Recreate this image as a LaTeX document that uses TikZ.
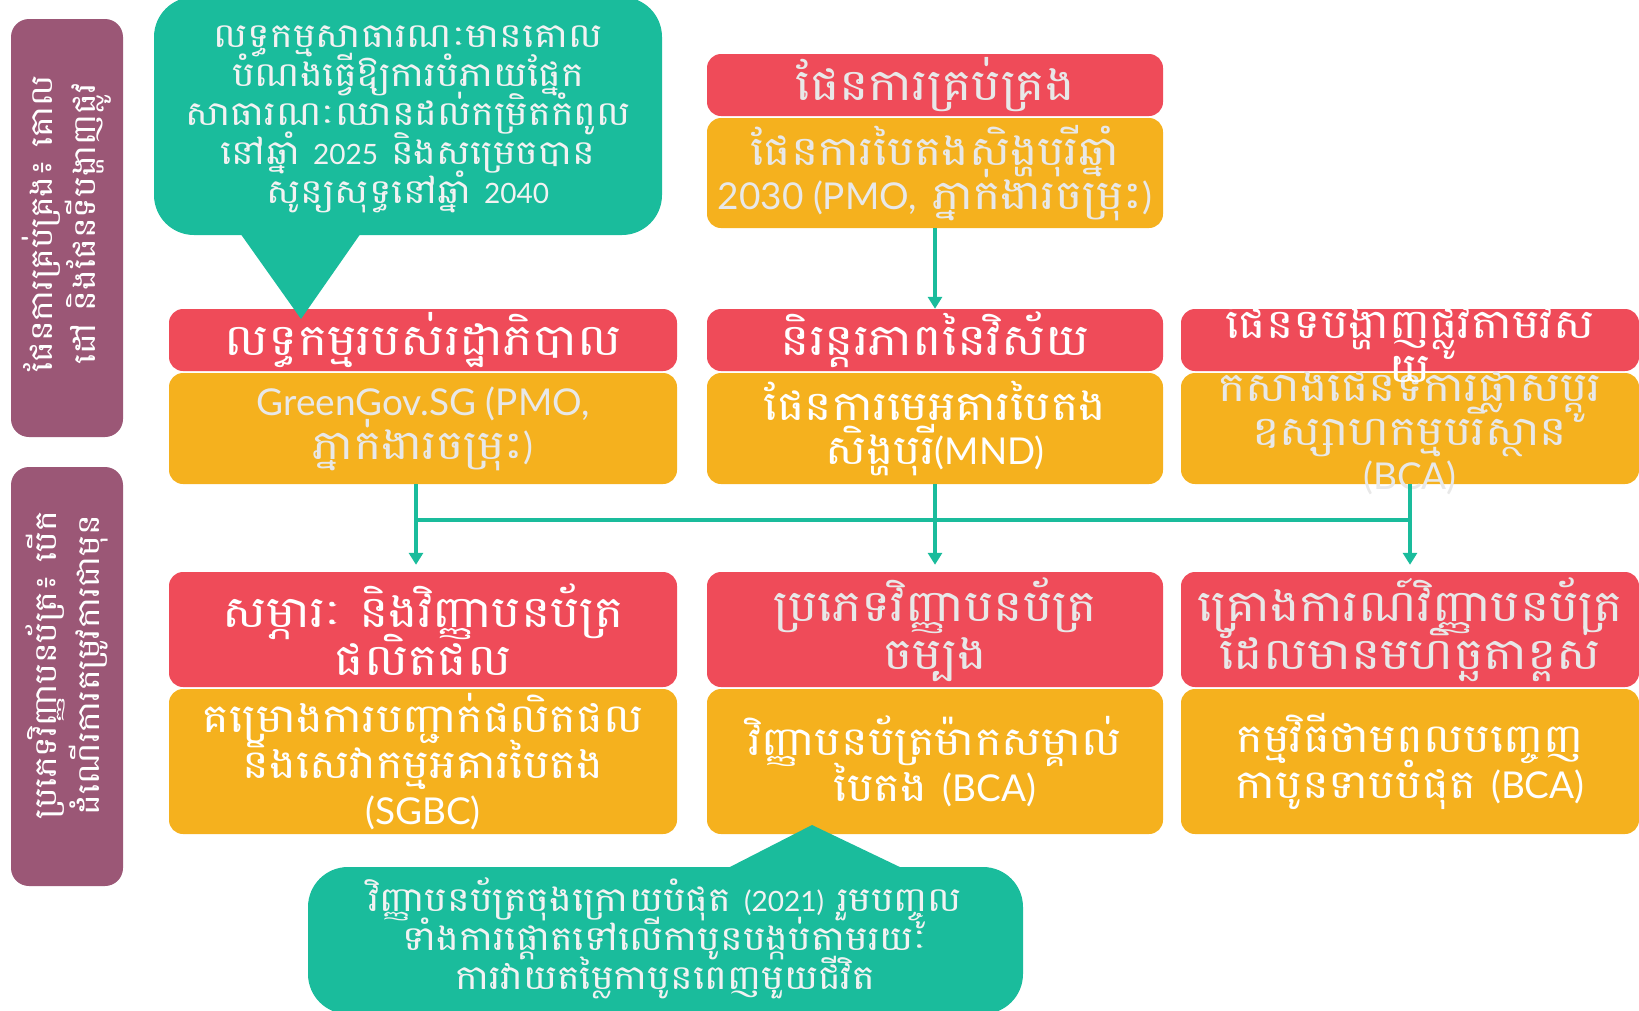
\documentclass[tikz,border=0pt]{standalone}
\usepackage{fontspec}
\setmainfont{Lato}
\newfontfamily\kh[Script=Khmer,FakeStretch=1.12]{Battambang}
\newfontfamily\la{Lato}
\def\ltsz{38}
\newcommand{\ltn}[1]{{\la\fontsize{\ltsz}{\ltsz}\selectfont #1}}
\usetikzlibrary{arrows.meta}
\definecolor{cred}{HTML}{EF4B59}
\definecolor{corg}{HTML}{F5B11E}
\definecolor{cteal}{HTML}{1ABC9C}
\definecolor{cpur}{HTML}{9B5776}
\definecolor{tgray}{HTML}{E8E8E8}
\def\tight{\lineskiplimit=-1000pt\lineskip=0pt}
\tikzset{
  box/.style={rectangle, rounded corners=14pt, inner sep=0pt, draw=none},
  redbox/.style={box, fill=cred},
  orgbox/.style={box, fill=corg},
  purbox/.style={rectangle, rounded corners=18pt, inner sep=0pt, draw=none, fill=cpur},
  ttl/.style={align=center, inner sep=0pt, text=white, font=\kh\fontsize{44}{48}\selectfont\tight},
  body/.style={align=center, inner sep=0pt, text=white, font=\def\ltsz{37}\kh\fontsize{41}{44}\selectfont\tight},
  bodyw/.style={body, font=\def\ltsz{37}\kh\fontsize{40}{46}\selectfont\tight},
  bub/.style={align=center, inner sep=0pt, text=white!95!black, font=\def\ltsz{28}\kh\fontsize{34}{39}\selectfont\tight},
  side/.style={align=center, inner sep=0pt, rotate=90, text=white, font=\kh\fontsize{31}{43}\selectfont\tight},
  line/.style={draw=cteal, line width=3.5pt},
  conn/.style={line, -{Triangle[width=14pt,length=12pt]}},
}
\begin{document}
\begin{tikzpicture}[x=1pt,y=-1pt]
\useasboundingbox (0,0) rectangle (1639,1010);

% left side labels
\node[purbox, minimum width=112, minimum height=418] (p1) at (67,228) {};
\node[side] (p1t) at (67,224) {ផែនការគ្រប់គ្រង៖ គោល\\ដៅ និងផែនទីបង្ហាញផ្លូវ};
\node[purbox, minimum width=112, minimum height=419] (p2) at (67,676.5) {};
\node[side] (p2t) at (67,665) {ប្រភេទវិញ្ញាបនប័ត្រ៖ បើក\\ដំណើរការតម្រូវការជាមុន};

% top column
\node[redbox, minimum width=456, minimum height=62] (rt) at (935,85) {};
\node[ttl, text=tgray] (rtt) at (rt) {ផែនការគ្រប់គ្រង};
\node[orgbox, minimum width=456, minimum height=110] (ot) at (935,173) {};
\node[body, text=tgray] (ott) at (ot) {ផែនការបៃតងសិង្ហបុរីឆ្នាំ\\\ltn{2030 (PMO,} ភ្នាក់ងារចម្រុះ\ltn{)}};

% row 2
\node[redbox, minimum width=508, minimum height=62] (r2a) at (423,340) {};
\node[ttl] (r2at) at (r2a) {លទ្ធកម្មរបស់រដ្ឋាភិបាល};
\node[redbox, minimum width=456, minimum height=62] (r2b) at (935,340) {};
\node[ttl] (r2bt) at (r2b) {និរន្តរភាពនៃវិស័យ};
\node[orgbox, minimum width=508, minimum height=111] (o2a) at (423,428.5) {};
\node[body, text=tgray] (o2at) at (o2a) {\ltn{GreenGov.SG (PMO,}\\ភ្នាក់ងារចម្រុះ\ltn{)}};
\node[orgbox, minimum width=456, minimum height=111] (o2b) at (935,428.5) {};
\node[body] (o2bt) at (o2b) {ផែនការមេអគារបៃតង\\សិង្ហបុរី\ltn{(MND)}};
\node[orgbox, minimum width=458, minimum height=111] (o2c) at (1410,428.5) {};
\node[body, text=tgray] (o2ct) at (o2c) {កសាងផែនទីការផ្លាស់ប្តូរ\\ឧស្សាហកម្មបរិស្ថាន\\\ltn{(BCA)}};
\node[redbox, minimum width=458, minimum height=62] (r2c) at (1410,340) {};
\node[ttl, font=\kh\fontsize{41}{44}\selectfont\tight] (r2ct) at (r2c) {ផែនទីបង្ហាញផ្លូវតាមវិស\\យ};

% row 3
\node[redbox, minimum width=508, minimum height=115] (r3a) at (423,629.5) {};
\node[ttl] (r3at) at (r3a) {សម្ភារៈ និងវិញ្ញាបនប័ត្រ\\ផលិតផល};
\node[redbox, minimum width=456, minimum height=115] (r3b) at (935,629.5) {};
\node[ttl, text=tgray] (r3bt) at (r3b) {ប្រភេទវិញ្ញាបនប័ត្រ\\ចម្បង};
\node[redbox, minimum width=458, minimum height=115] (r3c) at (1410,629.5) {};
\node[ttl, text=tgray] (r3ct) at (r3c) {គ្រោងការណ៍វិញ្ញាបនប័ត្រ\\ដែលមានមហិច្ឆតាខ្ពស់};
\node[orgbox, minimum width=508, minimum height=145] (o3a) at (423,761.5) {};
\node[bodyw] (o3at) at (o3a) {គម្រោងការបញ្ជាក់ផលិតផល\\និងសេវាកម្មអគារបៃតង\\\ltn{(SGBC)}};
\node[orgbox, minimum width=456, minimum height=145] (o3b) at (935,761.5) {};
\node[bodyw] (o3bt) at (o3b) {វិញ្ញាបនប័ត្រម៉ាកសម្គាល់\\បៃតង \ltn{(BCA)}};
\node[orgbox, minimum width=458, minimum height=145] (o3c) at (1410,761.5) {};
\node[bodyw] (o3ct) at (o3c) {កម្មវិធីថាមពលបញ្ចេញ\\កាបូនទាបបំផុត \ltn{(BCA)}};

% connectors
\coordinate (bus) at (0,520);
\coordinate (a1) at ([xshift=-7pt]o2a.south);
\coordinate (a2) at ([xshift=-7pt]r3a.north);
\draw[conn] (ot.south) -- (r2b.north);
\draw[line] (a1 |- bus) -- (o2c.south |- bus);
\draw[conn, shorten >=7pt] (a1) -- (a2);
\draw[conn, shorten >=7pt] (o2b.south) -- (r3b.north);
\draw[conn, shorten >=7pt] (o2c.south) -- (r3c.north);

% speech bubbles
\fill[cteal, rounded corners=40pt] (154,-3) rectangle (662,235);
\fill[cteal] (240,233) -- (301,319) -- (361,233) -- cycle;
\node[bub] (b1) at (408,119) {លទ្ធកម្មសាធារណៈមានគោល\\បំណងធ្វើឱ្យការបំភាយផ្នែក\\សាធារណៈឈានដល់កម្រិតកំពូល\\នៅឆ្នាំ \ltn{2025} និងសម្រេចបាន\\សូន្យសុទ្ធនៅឆ្នាំ \ltn{2040}};
\fill[cteal, rounded corners=40pt] (308,867) rectangle (1023,1014);
\fill[cteal] (726,869) -- (812,825) -- (904,869) -- cycle;
\node[bub] (b2) at (665,938) {វិញ្ញាបនប័ត្រចុងក្រោយបំផុត \ltn{(2021)} រួមបញ្ចូល\\ទាំងការផ្តោតទៅលើកាបូនបង្កប់តាមរយៈ\\ការវាយតម្លៃកាបូនពេញមួយជីវិត};
\end{tikzpicture}
\end{document}
